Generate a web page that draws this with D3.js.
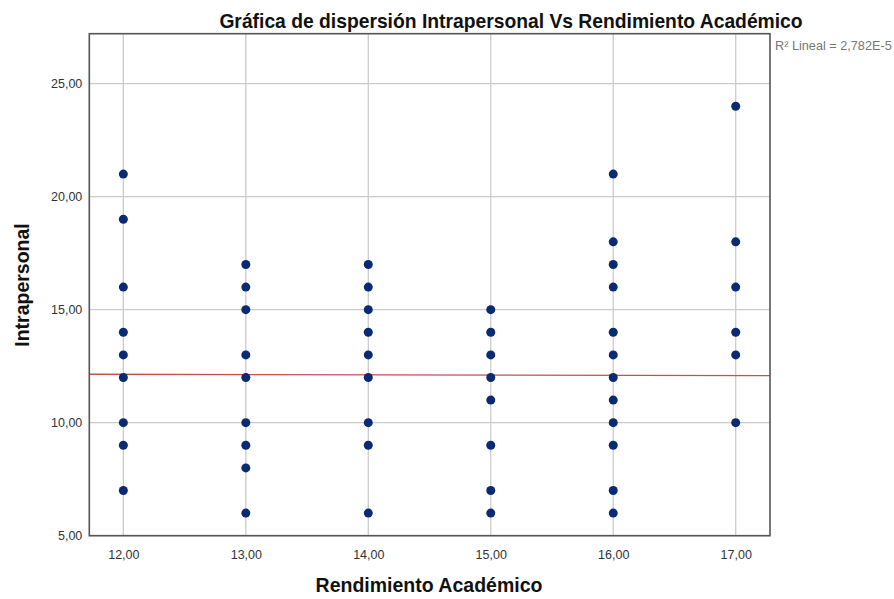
<!DOCTYPE html>
<html><head><meta charset="utf-8">
<script src="https://cdn.jsdelivr.net/npm/d3@7/dist/d3.min.js"></script>
<style>body{margin:0;background:#fff}svg{display:block}text{font-family:"Liberation Sans",Arial,sans-serif}</style>
</head><body>
<svg id="c" width="894" height="599"></svg>
<script>
const xVals = [12,12,12,12,12,12,12,12,12,
               13,13,13,13,13,13,13,13,13,
               14,14,14,14,14,14,14,14,14,
               15,15,15,15,15,15,15,15,
               16,16,16,16,16,16,16,16,16,16,16,16,
               17,17,17,17,17,17];
const yVals = [21,19,16,14,13,12,10,9,7,
               17,16,15,13,12,10,9,8,6,
               17,16,15,14,13,12,10,9,6,
               15,14,13,12,11,9,7,6,
               21,18,17,16,14,13,12,11,10,9,7,6,
               24,18,16,14,13,10];
const xTicks = [12,13,14,15,16,17];
const yTicks = [5,10,15,20,25];
const fitX = [11.72, 17.28];
const fitY = [12.14, 12.08];
const title = "Gráfica de dispersión Intrapersonal Vs Rendimiento Académico";
const xLabel = "Rendimiento Académico";
const yLabel = "Intrapersonal";
const r2Label = "R² Lineal = 2,782E-5";

const svg = d3.select("#c");
const L = 89.3, R = 770, T = 33.7, B = 535.7;
const x = d3.scaleLinear().domain([11.722, 17.28]).range([L, R]);
const y = d3.scaleLinear().domain([5, 27.21]).range([B, T]);
const fmt = d => d.toFixed(2).replace(".", ",");

// grid
svg.append("g").selectAll("line").data(xTicks).join("line")
  .attr("x1", d => x(d)).attr("x2", d => x(d)).attr("y1", T).attr("y2", B)
  .attr("stroke", "#cbcbcb").attr("stroke-width", 1.3);
svg.append("g").selectAll("line").data(yTicks).join("line")
  .attr("x1", L).attr("x2", R).attr("y1", d => y(d)).attr("y2", d => y(d))
  .attr("stroke", "#cbcbcb").attr("stroke-width", 1.3);

// fit line
svg.append("line")
  .attr("x1", x(fitX[0])).attr("y1", y(fitY[0])).attr("x2", x(fitX[1])).attr("y2", y(fitY[1]))
  .attr("stroke", "#c4504f").attr("stroke-width", 1.4);

// points
svg.append("g").selectAll("circle").data(xVals.map((v, i) => [v, yVals[i]])).join("circle")
  .attr("cx", d => x(d[0])).attr("cy", d => y(d[1])).attr("r", 4.5)
  .attr("fill", "#0a2a72");

// frame
svg.append("rect").attr("x", L).attr("y", T).attr("width", R - L).attr("height", B - T)
  .attr("fill", "none").attr("stroke", "#555").attr("stroke-width", 1.6);

// axes
const xa = svg.append("g").attr("transform", `translate(0,${B})`)
  .call(d3.axisBottom(x).tickValues(xTicks).tickFormat(fmt).tickSize(0).tickPadding(14));
const ya = svg.append("g").attr("transform", `translate(${L},0)`)
  .call(d3.axisLeft(y).tickValues(yTicks).tickFormat(fmt).tickSize(0).tickPadding(7));
[xa, ya].forEach(a => {
  a.select(".domain").remove();
  a.selectAll("text").attr("font-size", 12.5).attr("fill", "#333")
    .attr("font-family", '"Liberation Sans",Arial,sans-serif');
});

svg.append("text").attr("x", 511).attr("y", 28).attr("text-anchor", "middle")
  .attr("font-size", 19.3).attr("font-weight", "bold").attr("fill", "#111").text(title);
svg.append("text").attr("x", 429).attr("y", 592).attr("text-anchor", "middle")
  .attr("font-size", 19.5).attr("font-weight", "bold").attr("fill", "#111").text(xLabel);
svg.append("text").attr("transform", "translate(29,285) rotate(-90)").attr("text-anchor", "middle")
  .attr("font-size", 19.5).attr("font-weight", "bold").attr("fill", "#111").text(yLabel);
svg.append("text").attr("x", 775).attr("y", 50)
  .attr("font-size", 12.7).attr("fill", "#777").text(r2Label);
</script>
</body></html>
